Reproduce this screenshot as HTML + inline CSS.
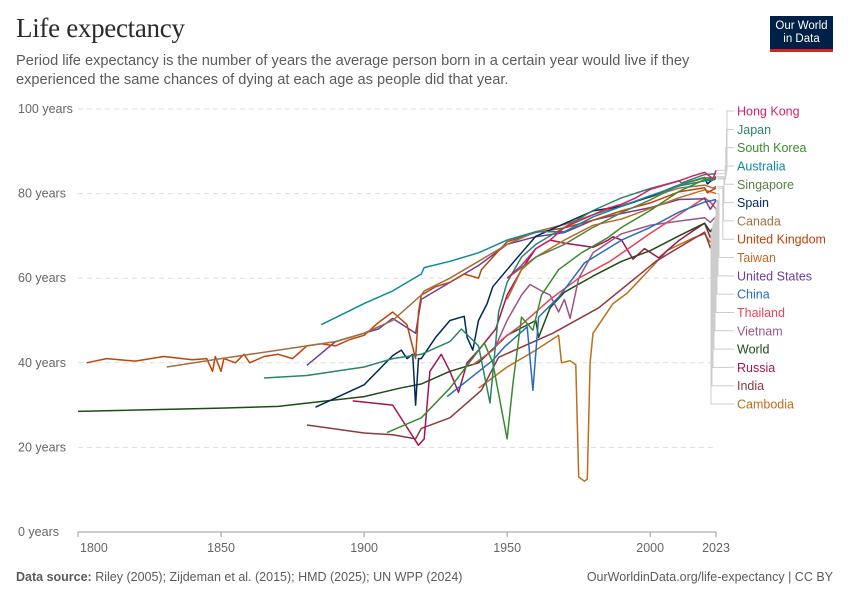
<!DOCTYPE html>
<html><head><meta charset="utf-8">
<style>
body{margin:0;background:#fff;width:850px;height:600px;overflow:hidden;font-family:"Liberation Sans",sans-serif;}
#wrap{position:relative;width:850px;height:600px;}
h1{position:absolute;left:16px;top:13px;margin:0;font-family:"Liberation Serif",serif;font-size:27px;font-weight:normal;color:#2b2b2b;letter-spacing:-0.3px;}
.sub{position:absolute;left:16px;top:52px;width:720px;font-size:14.6px;line-height:18.5px;color:#5b5b5b;}
.logo{position:absolute;left:770px;top:16px;width:63px;height:36px;background:#002147;border-bottom:3px solid #ce261e;color:#fff;font-size:11.5px;line-height:13px;text-align:center;padding-top:4px;box-sizing:border-box;}
.foot{position:absolute;top:570px;font-size:12.5px;color:#5b5b5b;}
svg{position:absolute;left:0;top:0;}
</style></head><body>
<div id="wrap">
<h1>Life expectancy</h1>
<div class="sub">Period life expectancy is the number of years the average person born in a certain year would live if they experienced the same chances of dying at each age as people did that year.</div>
<div class="logo">Our World<br>in Data</div>
<div class="foot" style="left:16px"><b>Data source:</b> Riley (2005); Zijdeman et al. (2015); HMD (2025); UN WPP (2024)</div>
<div class="foot" style="right:17px">OurWorldinData.org/life-expectancy | CC BY</div>
<svg id="chart" width="850" height="600"></svg>
</div>
<script>
const yTicks=[0,20,40,60,80,100];
const xTicks=[1800,1850,1900,1950,2000,2023];
const seriesNames=["Hong Kong","Japan","South Korea","Australia","Singapore","Spain","Canada","United Kingdom","Taiwan","United States","China","Thailand","Vietnam","World","Russia","India","Cambodia"];
const hkYears=[1950,1955,1960,1965,1970,1975,1980,1985,1990,1995,2000,2005,2010,2015,2019,2022,2023];
const hkValues=[60,63,67,69,72,73.5,75,76.5,77.5,79,81,82,83,84.2,85,83.5,85.5];
const jpYears=[1865,1880,1900,1910,1920,1930,1934,1940,1944,1947,1950,1955,1960,1970,1980,1990,2000,2010,2011,2019,2023];
const jpValues=[36.4,37,39,41,42,45,48,44,30.5,52,59,65,68,72,76,79,81.2,83,82.5,84.5,84.7];
const krYears=[1908,1920,1930,1942,1945,1950,1952,1955,1959,1962,1966,1968,1976,1985,1990,2000,2010,2019,2023];
const krValues=[23.5,27,34,44.7,40,22,35,50.8,47.7,56,60,62,66,69.5,72,76,80.5,83.3,83.5];
const auYears=[1885,1900,1910,1920,1921,1930,1940,1950,1960,1970,1980,1990,2000,2010,2019,2022,2023];
const auValues=[49,54,57,61,62.5,64,66,69,71,71,74.5,77,79.5,81.8,83,83.2,83.5];
const sgYears=[1950,1960,1970,1980,1990,2000,2010,2019,2023];
const sgValues=[60,65,68,72,75.5,78.5,82,83.7,83.7];
const esYears=[1883,1900,1910,1913,1915,1917,1918,1919,1920,1925,1930,1935,1936,1938,1940,1943,1945,1950,1955,1960,1970,1980,1990,2000,2010,2019,2020,2023];
const esValues=[29.5,34.8,41.7,43,41,42,30,41,41,46,50,51,46,43,50,54,58,62,66,69.9,72.9,75.9,77,79.3,82,83.8,82.3,84];
const caYears=[1831,1850,1870,1890,1900,1910,1920,1921,1930,1940,1950,1960,1970,1980,1990,2000,2010,2019,2022,2023];
const caValues=[39,41,43,45,47,50,56,57,60,64,68,71,72.7,75,77.2,79.2,81.3,82,81.3,81.7];
const ukYears=[1803,1810,1820,1830,1840,1845,1847,1848,1850,1851,1855,1858,1860,1865,1870,1875,1880,1885,1890,1895,1900,1905,1910,1915,1918,1919,1920,1925,1930,1935,1940,1941,1945,1950,1960,1970,1980,1990,2000,2010,2019,2020,2021,2023];
const ukValues=[40,41,40.4,41.5,40.7,41,38,41.5,38,41,40,42,40,41.5,42,41,44,44.5,44,45.5,46.5,49.5,52,49,41,52,56,58,59,61,60,62,65,68.6,70.8,71.9,73.7,75.9,77.8,80.4,81.4,80.2,80.6,81.3];
const twYears=[1950,1955,1960,1970,1980,1990,2000,2010,2019,2023];
const twValues=[55,62,65,69,72.5,74,76.5,79,80.9,80];
const usYears=[1880,1890,1900,1905,1910,1918,1920,1930,1940,1950,1960,1970,1980,1990,2000,2010,2019,2021,2023];
const usValues=[39.4,45,47,48,50.5,47,55,59,63,68,69.8,70.8,73.7,75.3,76.7,78.6,78.8,76.3,78.4];
const cnYears=[1929,1945,1949,1957,1959,1961,1968,1973,1977,1990,2000,2010,2019,2023];
const cnValues=[32,40.6,43.7,48.5,33.5,50.8,55.5,60,63.6,69,72,75.6,78,78.6];
const thYears=[1938,1945,1948,1955,1965,1975,1986,2000,2010,2019,2021,2023];
const thValues=[39.5,43,45.4,49,55,60,64,70.6,75,79,78,76.4];
const vnYears=[1946,1950,1955,1958,1962,1965,1968,1970,1972,1975,1980,1990,2000,2010,2019,2021,2023];
const vnValues=[44,50,56,58.5,57,56,52,55,50.5,60,66,70.5,72.5,73.5,74.3,73.2,74.6];
const wdYears=[1800,1850,1870,1900,1913,1920,1930,1940,1950,1960,1961,1965,1970,1980,1990,2000,2010,2019,2021,2023];
const wdValues=[28.5,29.3,29.7,32,34.1,35,38,40,46.5,50,46,53,56.7,60.5,64,66.5,70,73,71,73.2];
const ruYears=[1896,1910,1919,1921,1923,1927,1930,1933,1936,1940,1946,1950,1955,1960,1965,1970,1980,1985,1987,1990,1994,1998,2003,2010,2015,2019,2021,2023];
const ruValues=[31,30,20.5,22,38,42,38,33,40,43,48,56,62,67,69,68.3,67.3,68.9,69.8,69,64.5,67,64.8,68.9,71.2,73,69.6,72.8];
const inYears=[1880,1900,1910,1918,1920,1930,1941,1947,1966,1982,2002,2019,2021,2023];
const inValues=[25.3,23.4,23,22,24.5,27,33.5,41.3,47,53,64,70.9,67.2,72];
const khYears=[1940,1950,1960,1968,1969,1972,1974,1975,1977,1978,1979,1980,1987,1992,1999,2006,2015,2019,2021,2023];
const khValues=[34,39,43,46.5,40,40.5,39.5,13,12,12.5,40,47,54,56.5,61.5,66.6,69.5,70.5,68.5,70.7];
const seriesYears=[hkYears,jpYears,krYears,auYears,sgYears,esYears,caYears,ukYears,twYears,usYears,cnYears,thYears,vnYears,wdYears,ruYears,inYears,khYears];
const seriesValues=[hkValues,jpValues,krValues,auValues,sgValues,esValues,caValues,ukValues,twValues,usValues,cnValues,thValues,vnValues,wdValues,ruValues,inValues,khValues];
const colors=["#d61f6f","#2c8465","#3c8a2e","#0c8b9c","#578145","#00295b","#a2703b","#c0430c","#c26a27","#6d3e91","#286bbb","#e5435b","#9a5584","#1d4d14","#a51451","#8e3a3d","#bc6e1a"];

const NS="http://www.w3.org/2000/svg";
const svg=document.getElementById('chart');
const X0=78,X1=716,Y0=532,Y1=109;
function xs(y){return X0+(y-1800)/(2023-1800)*(X1-X0);}
function ys(v){return Y0-v/100*(Y0-Y1);}
function mk(t,a){const e=document.createElementNS(NS,t);for(const k in a)e.setAttribute(k,a[k]);svg.appendChild(e);return e;}

yTicks.forEach(v=>{
  const g=mk('line',{x1:X0,x2:X1,y1:ys(v),y2:ys(v),stroke:v===0?'#999':'#ddd','stroke-dasharray':v===0?'':'5,4','stroke-width':1});
  
  
  const t=mk('text',{x:18,y:ys(v)+4,'font-size':12.5,fill:'#666','font-family':'Liberation Sans, sans-serif'});
  t.textContent=v+' years';
  
  
});
xTicks.forEach((yr,i)=>{
  const l=mk('line',{x1:xs(yr),x2:xs(yr),y1:Y0,y2:Y0+5,stroke:'#999'});
  
  
  const t=mk('text',{x:i===0?xs(yr)+2:xs(yr),y:Y0+20,'font-size':12.5,fill:'#666','text-anchor':i===0?'start':'middle','font-family':'Liberation Sans, sans-serif'});
  t.textContent=yr;
  
  
});
// draw series (back to front)
for(let i=seriesNames.length-1;i>=0;i--){
  const pts=seriesYears[i].map((y,j)=>xs(y).toFixed(1)+','+ys(seriesValues[i][j]).toFixed(1)).join(' ');
  const p=mk('polyline',{points:pts,fill:'none',stroke:colors[i],'stroke-width':1.5,'stroke-linejoin':'round'});
  
  
}
// legend labels with connectors
const n=seriesNames.length;
for(let i=0;i<n;i++){
  const ly=111+i*(404-111)/(n-1);
  const vals=seriesValues[i];
  const ey=ys(vals[vals.length-1]);
  const cx=731-i*0.6-(i>7?i*0.4:0);
  const c=mk('polyline',{points:`${X1+1},${ey} ${cx-4},${ey} ${cx-4},${ly} ${734},${ly}`,fill:'none',stroke:'#ccc','stroke-width':1});
  
  
  const t=mk('text',{x:737,y:ly+4.5,'font-size':12.5,fill:colors[i],'font-family':'Liberation Sans, sans-serif'});
  t.textContent=seriesNames[i];
  
  
}
</script>
</body></html>
